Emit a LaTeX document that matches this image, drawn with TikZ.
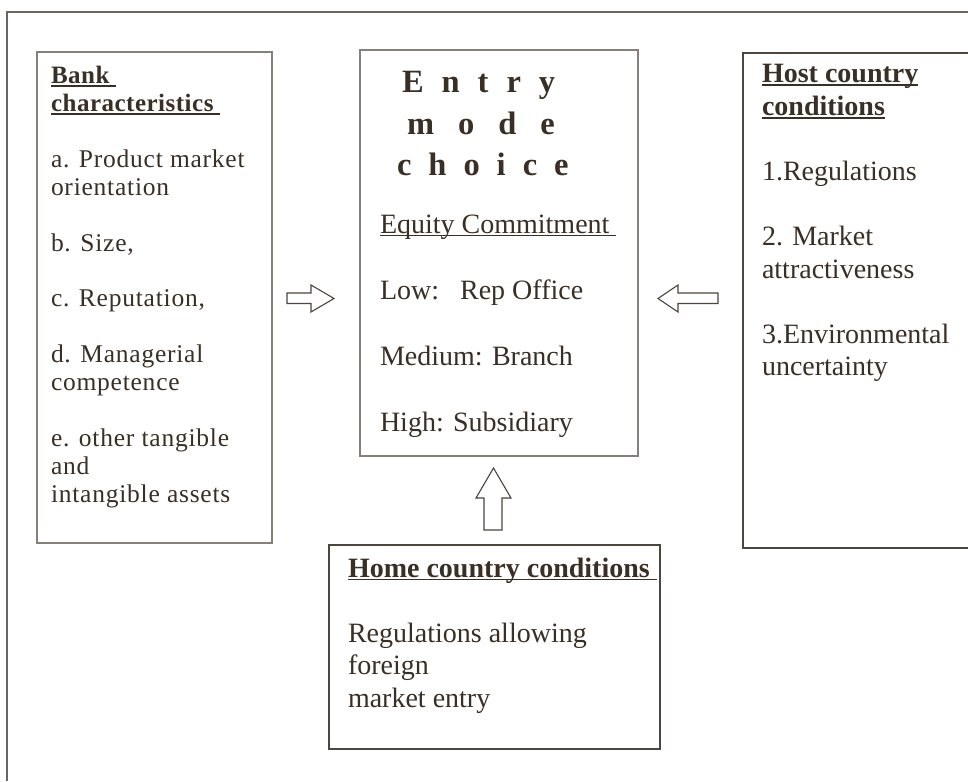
\documentclass[tikz,border=0pt]{standalone}
\usepackage{fontspec}
\setmainfont{Liberation Serif}
\definecolor{ink}{HTML}{3A2F25}
\definecolor{boxc}{HTML}{858078}
\definecolor{boxd}{HTML}{4E453C}
\definecolor{framec}{HTML}{6E665E}
\newsavebox\ulb
\newcommand\ulx[1]{\sbox\ulb{#1}\rlap{\rule[-3.2pt]{\wd\ulb}{1.7pt}}\usebox\ulb}
\tikzset{
  frameline/.style={draw=framec, line width=1.4pt},
  boxl/.style={draw=boxc, line width=1.2pt},
  boxdk/.style={draw=boxd, line width=1.2pt},
  ln/.style={anchor=base west, inner sep=0pt, outer sep=0pt, text=ink},
  lsm/.style={ln, font=\fontsize{25.5}{28}\selectfont\addfontfeature{LetterSpace=3}},
  lsmb/.style={ln, font=\fontsize{25}{28}\selectfont\bfseries\addfontfeature{LetterSpace=2}},
  lmd/.style={ln, font=\fontsize{28}{32}\selectfont},
  lmdb/.style={ln, font=\fontsize{28}{32}\selectfont\bfseries},
  ttl/.style={ln, font=\fontsize{32.5}{37}\selectfont\bfseries},
  blockarrow/.style={draw=boxd, line width=1.1pt, fill=white, line join=miter},
}
\begin{document}
\begin{tikzpicture}[x=1pt,y=-1pt]
\useasboundingbox (0,0) rectangle (968,781);
\fill[white] (0,0) rectangle (968,781);
% outer frame (open to right and bottom)
\draw[frameline] (7,781) -- (7,12) -- (968,12);
% boxes
\draw[boxl] (37,52) rectangle (272,543);
\draw[boxl] (360,50) rectangle (638,456);
\draw[boxdk] (968,53) -- (743,53) -- (743,548) -- (968,548);
\draw[boxdk] (329,545) rectangle (660,749);
% left box text
\node[lsmb] (b1) at (51,83.5) {\ulx{Bank\ }};
\node[lsmb] (b2) at (51,111.4) {\ulx{characteristics\ }};
\node[lsm] (b3) at (51,167.2) {a. Product market};
\node[lsm] (b4) at (51,195.1) {orientation};
\node[lsm] (b5) at (51,251) {b. Size,};
\node[lsm] (b6) at (51,306.8) {c. Reputation,};
\node[lsm] (b7) at (51,362.6) {d. Managerial};
\node[lsm] (b8) at (51,390.5) {competence};
\node[lsm] (b9) at (51,446.3) {e. other tangible};
\node[lsm] (b10) at (51,474.2) {and};
\node[lsm] (b11) at (51,502.1) {intangible assets};
% centre box text
\node[ttl] (e1) at (402,93) {E\hspace{18pt}n\hspace{18pt}t\hspace{18pt}r\hspace{18pt}y};
\node[ttl] (e2) at (407,134) {m\hspace{24pt}o\hspace{24pt}d\hspace{24pt}e};
\node[ttl] (e3) at (397,175) {c\hspace{17pt}h\hspace{17pt}o\hspace{17pt}i\hspace{17pt}c\hspace{17pt}e};
\node[lmd] (e4) at (380,233) {\ulx{Equity Commitment\ }};
\node[lmd] (e5) at (380,299) {Low:\ \ \ Rep Office};
\node[lmd] (e6) at (380,365) {Medium: Branch};
\node[lmd] (e7) at (380,431) {High: Subsidiary};
% right box text
\node[lmdb] (h1) at (762,83) {\ulx{Host country}};
\node[lmdb] (h2) at (762,115.5) {\ulx{conditions}};
\node[lmd] (h3) at (762,180.5) {1.Regulations};
\node[lmd] (h4) at (762,245.5) {2. Market};
\node[lmd] (h5) at (762,278) {attractiveness};
\node[lmd] (h6) at (762,343) {3.Environmental};
\node[lmd] (h7) at (762,375.5) {uncertainty};
% bottom box text
\node[lmdb] (m1) at (348,577) {\ulx{Home country conditions\ }};
\node[lmd] (m2) at (348,642) {Regulations allowing};
\node[lmd] (m3) at (348,674.5) {foreign};
\node[lmd] (m4) at (348,707) {market entry};
% block arrows
\draw[blockarrow] (287,293) -- (311,293) -- (311,285) -- (334,298.5) -- (311,312) -- (311,303.5) -- (287,303.5) -- cycle;
\draw[blockarrow] (718,293) -- (678,293) -- (678,285) -- (658,298.5) -- (678,312) -- (678,303.5) -- (718,303.5) -- cycle;
\draw[blockarrow] (484,530) -- (484,498) -- (476,498) -- (493.5,468) -- (511,498) -- (502,498) -- (502,530) -- cycle;
\end{tikzpicture}
\end{document}
